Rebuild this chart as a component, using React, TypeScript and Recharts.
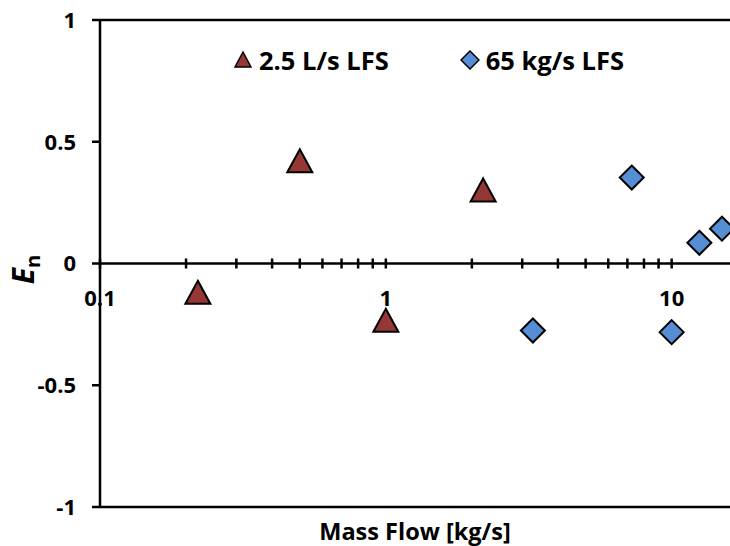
import {
  ScatterChart, Scatter, XAxis, YAxis, ReferenceLine, Legend,
} from 'recharts'

// 2.5 L/s LFS (triangles)
const litreX = [0.22, 0.5, 1.0, 2.19]
const litreY = [-0.12, 0.42, -0.235, 0.3]

// 65 kg/s LFS (diamonds)
const kgX = [3.27, 7.25, 10, 12.5, 15]
const kgY = [-0.275, 0.353, -0.282, 0.085, 0.143]

const X_DOMAIN: [number, number] = [0.1, 16]
const Y_TICKS = [-1, -0.5, 0, 0.5, 1]
const MAJOR_TICKS = [0.1, 1, 10]
const MAJOR_LABELS = ['0.1', '1', '10']
const MINOR_TICKS = [0.2, 0.3, 0.4, 0.5, 0.6, 0.7, 0.8, 0.9, 2, 3, 4, 5, 6, 7, 8, 9]

const RED = '#953735'
const BLUE = '#558ED5'
const INK = '#000'
const FONT = "'Open Sans', 'DejaVu Sans', sans-serif"

const litreData = litreX.map((x, i) => ({ x, y: litreY[i] }))
const kgData = kgX.map((x, i) => ({ x, y: kgY[i] }))
const tickData = [
  ...MAJOR_TICKS.map((x, i) => ({ x, y: 0, label: MAJOR_LABELS[i] })),
  ...MINOR_TICKS.map((x) => ({ x, y: 0, label: '' })),
]

function Triangle({ cx, cy }: any) {
  if (cx == null || cy == null) return null
  return (
    <polygon
      points={`${cx},${cy - 12} ${cx + 12.5},${cy + 11} ${cx - 12.5},${cy + 11}`}
      fill={RED} stroke={INK} strokeWidth={2} strokeLinejoin="miter"
    />
  )
}

function Diamond({ cx, cy }: any) {
  if (cx == null || cy == null) return null
  return (
    <polygon
      points={`${cx},${cy - 12} ${cx + 12},${cy} ${cx},${cy + 12} ${cx - 12},${cy}`}
      fill={BLUE} stroke={INK} strokeWidth={2}
    />
  )
}

// tick marks crossing the zero line, with labels underneath
function AxisTick({ cx, cy, payload }: any) {
  if (cx == null || cy == null) return null
  return (
    <g>
      <line x1={cx} x2={cx} y1={cy - 5} y2={cy + 5} stroke={INK} strokeWidth={2.5} />
      {payload.label ? (
        <text x={cx} y={cy + 42} textAnchor="middle" fontSize={22} fontWeight="bold" fill={INK}>
          {payload.label}
        </text>
      ) : null}
    </g>
  )
}

function LegendBox() {
  return (
    <div style={{ display: 'flex', alignItems: 'center', fontFamily: FONT, fontSize: 25.5, fontWeight: 'bold', color: INK, whiteSpace: 'nowrap' }}>
      <svg width={20} height={20} style={{ marginRight: 6 }}>
        <polygon points="10,2 18,17 2,17" fill={RED} stroke={INK} strokeWidth={1.5} />
      </svg>
      <span>2.5 L/s LFS</span>
      <svg width={20} height={20} style={{ marginLeft: 71, marginRight: 6 }}>
        <polygon points="10,1 19,10 10,19 1,10" fill={BLUE} stroke={INK} strokeWidth={1.5} />
      </svg>
      <span>65 kg/s LFS</span>
    </div>
  )
}

function YLabel({ viewBox }: any) {
  const cx = viewBox.x + 34
  const cy = viewBox.y + viewBox.height / 2 + 6
  return (
    <text x={cx} y={cy} transform={`rotate(-90, ${cx}, ${cy})`} textAnchor="middle"
      fontWeight="bold" fill={INK} fontSize={30}>
      <tspan fontStyle="italic">E</tspan>
      <tspan fontSize={20} dy={6}>n</tspan>
    </text>
  )
}

function XLabel({ viewBox }: any) {
  return (
    <text x={viewBox.x + viewBox.width / 2} y={viewBox.y + 33} textAnchor="middle"
      fontSize={23.5} fontWeight="bold" fill={INK}>
      Mass Flow [kg/s]
    </text>
  )
}

export default function App() {
  return (
    <div style={{ width: 730, height: 546, overflow: 'clip', background: '#fff', fontFamily: FONT, position: 'relative' }}>
      <style>{'html, body { margin: 0; overflow: hidden; } svg.recharts-surface { overflow: hidden; outline: none; }'}</style>
      <ScatterChart width={730} height={546} margin={{ top: 20, right: 0, bottom: 0, left: 0 }}
        style={{ overflow: 'hidden', outline: 'none' }}>
        <XAxis
          type="number" dataKey="x" scale="log" domain={X_DOMAIN} ticks={MAJOR_TICKS}
          tick={false} axisLine={false} tickLine={false} height={39}
          label={{ content: XLabel }}
        />
        <YAxis
          type="number" dataKey="y" domain={[-1, 1]} ticks={Y_TICKS} width={100}
          axisLine={{ stroke: INK, strokeWidth: 2.5 }}
          tickLine={{ stroke: INK, strokeWidth: 2.5 }}
          tickSize={8} tickMargin={16}
          tick={{ fill: INK, fontSize: 22, fontWeight: 'bold' }}
          label={{ content: YLabel }}
        />
        <ReferenceLine y={1} stroke={INK} strokeWidth={2.5} />
        <ReferenceLine y={0} stroke={INK} strokeWidth={2.5} />
        <ReferenceLine y={-1} stroke={INK} strokeWidth={2.5} />
        <Scatter data={tickData} shape={AxisTick} legendType="none" isAnimationActive={false} />
        <Scatter name="2.5 L/s LFS" data={litreData} shape={Triangle} isAnimationActive={false} />
        <Scatter name="65 kg/s LFS" data={kgData} shape={Diamond} isAnimationActive={false} />
        <Legend
          layout="horizontal" verticalAlign="middle" align="center"
          content={LegendBox}
          wrapperStyle={{ top: 43, left: 233, width: 'auto' }}
        />
      </ScatterChart>
    </div>
  )
}
